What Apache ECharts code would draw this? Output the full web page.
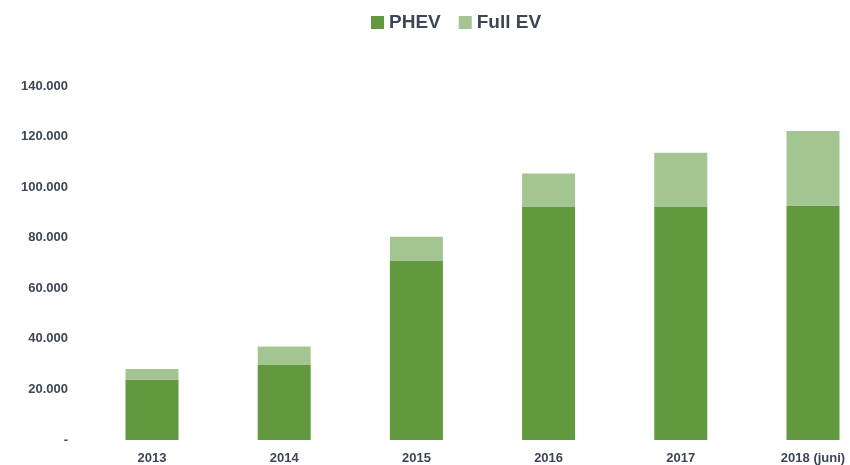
<!DOCTYPE html>
<html>
<head>
<meta charset="utf-8">
<script src="https://cdn.jsdelivr.net/npm/echarts@6/dist/echarts.min.js"></script>
<style>
  html, body { margin: 0; padding: 0; background: #fff; }
  #chart { width: 850px; height: 465px; }
</style>
</head>
<body>
<div id="chart"></div>
<script>
// data
const years = ['2013', '2014', '2015', '2016', '2017', '2018 (juni)']
const phev = [23800, 29700, 70800, 92300, 92300, 92700]
const fullEv = [4300, 7300, 9600, 13100, 21300, 29500]

const textColor = '#3d4656'

// 140000 -> "140.000", 0 -> "-"
function fmt(v) {
  if (v === 0) return '-'
  return String(v).replace(/\B(?=(\d{3})+(?!\d))/g, '.')
}

const chart = echarts.init(document.getElementById('chart'))

chart.setOption({
  animation: false,
  legend: {
    top: 8,
    left: 366,
    itemWidth: 13,
    itemHeight: 13,
    itemGap: 18,
    icon: 'rect',
    textStyle: {
      fontFamily: 'Liberation Sans',
      fontWeight: 'bold',
      fontSize: 19,
      color: textColor
    },
    data: ['PHEV', 'Full EV']
  },
  // grid edges sit on the first and last bar centres (boundaryGap off),
  // the last band of the original runs off the canvas
  grid: {
    left: 152,
    right: 37,
    top: 86,
    bottom: 25
  },
  xAxis: {
    type: 'category',
    data: years,
    boundaryGap: false,
    axisLine: { show: false },
    axisTick: { show: false },
    axisLabel: {
      margin: 12,
      fontFamily: 'Liberation Sans',
      fontWeight: 'bold',
      fontSize: 13,
      color: textColor
    }
  },
  yAxis: {
    type: 'value',
    min: 0,
    max: 140000,
    interval: 20000,
    splitLine: { show: false },
    axisLine: { show: false },
    axisTick: { show: false },
    axisLabel: {
      margin: 84,
      fontFamily: 'Liberation Sans',
      fontWeight: 'bold',
      fontSize: 13,
      color: textColor,
      formatter: fmt
    }
  },
  series: [
    {
      name: 'PHEV',
      type: 'bar',
      stack: 'total',
      barWidth: 53,
      itemStyle: { color: '#62983e' },
      data: phev
    },
    {
      name: 'Full EV',
      type: 'bar',
      stack: 'total',
      barWidth: 53,
      itemStyle: { color: '#a3c591' },
      data: fullEv
    }
  ]
})
</script>
</body>
</html>
